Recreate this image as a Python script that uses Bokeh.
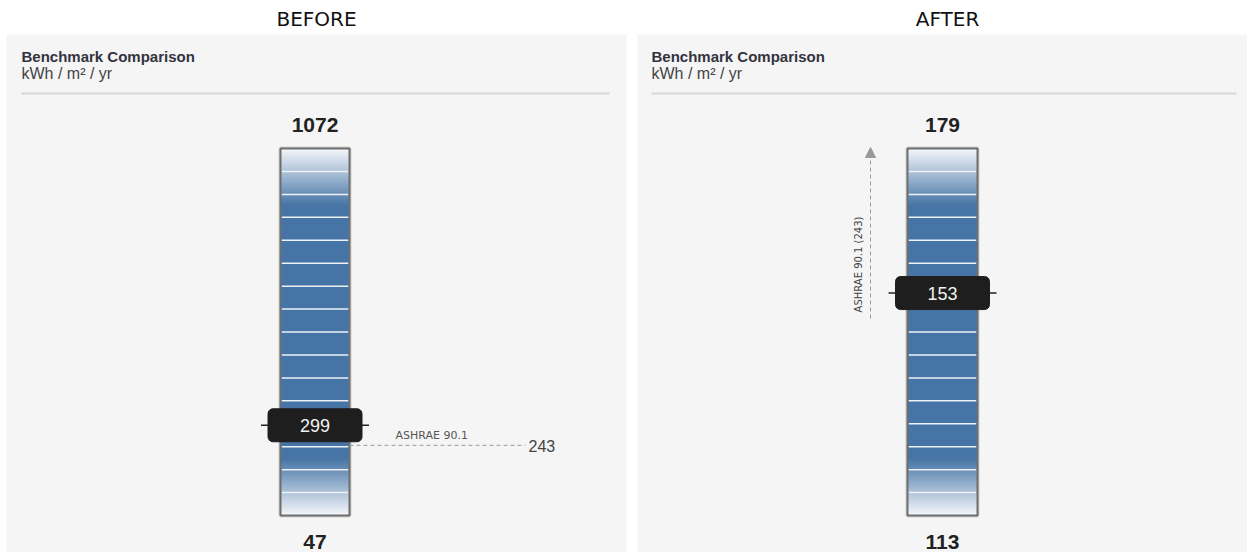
from bokeh.plotting import figure
from bokeh.layouts import row
from bokeh.models import Range1d, Arrow, NormalHead
from bokeh.core.properties import value
from bokeh.embed import file_html
from bokeh.resources import INLINE

# ---- data -------------------------------------------------------------
panel_titles = ["BEFORE", "AFTER"]
scale_min = [47, 113]          # value printed under each gauge
scale_max = [1072, 179]        # value printed above each gauge
current_value = [299, 153]     # building's intensity (marker)
ashrae_name = "ASHRAE 90.1"
ashrae_value = 243             # benchmark intensity
header_title = "Benchmark Comparison"
header_units = "kWh / m² / yr"

# ---- layout (page pixels) ---------------------------------------------
W, H = 1247, 552
fig_x = [(0, 631), (631, 1247)]
panel_x = [(6, 626), (637, 1247)]
bar_x = [(280, 349), (907, 977)]
header_x = [21, 651]
sep_x = [(21, 609), (651, 1236)]
title_cx = [316, 947]
PANEL_TOP = 34
BAR_TOP, BAR_BOT = 148, 515
N_SEGMENTS = 16
N_FADE_STRIPS = 40
FADE = 0.155

BLUE = (70, 116, 166)
LIGHT = (245, 248, 251)
TEXT_FONT = value("Liberation Sans")
SMALL_FONT = value("DejaVu Sans")


def mix(a, b, t):
    return "#%02x%02x%02x" % tuple(int(round(a[i] + (b[i] - a[i]) * t)) for i in range(3))


def make_panel(i):
    vmin, vmax = scale_min[i], scale_max[i]
    span = vmax - vmin

    def px_to_val(py):
        return vmin + (BAR_BOT - py) / (BAR_BOT - BAR_TOP) * span

    x0, x1 = fig_x[i]
    p = figure(width=x1 - x0, height=H, output_backend="svg", toolbar_location=None,
               x_range=Range1d(x0, x1), y_range=Range1d(px_to_val(H), px_to_val(0)),
               min_border=0, x_axis_location=None, y_axis_location=None,
               outline_line_color=None, background_fill_color="white",
               border_fill_color="white")
    p.extra_y_ranges = {"px": Range1d(H, 0)}
    p.xgrid.visible = False
    p.ygrid.visible = False

    # panel card and header
    px0, px1 = panel_x[i]
    p.quad(left=px0, right=px1, top=PANEL_TOP, bottom=H, y_range_name="px",
           fill_color="#f5f5f5", line_color=None)
    p.text(x=[title_cx[i]], y=[18], text=[panel_titles[i]], y_range_name="px",
           text_font=value("DejaVu Sans"), text_font_size="20px", text_color="#111111",
           text_align="center", text_baseline="middle")
    p.text(x=[header_x[i]], y=[56], text=[header_title], y_range_name="px",
           text_font=TEXT_FONT, text_font_style="bold", text_font_size="15px",
           text_color="#333340", text_baseline="middle")
    p.text(x=[header_x[i]], y=[73], text=[header_units], y_range_name="px",
           text_font=TEXT_FONT, text_font_size="16px", text_color="#444444",
           text_baseline="middle")
    p.segment(x0=sep_x[i][0], x1=sep_x[i][1], y0=93, y1=93, y_range_name="px",
              line_color="#d6d6d6", line_width=2)

    # gauge body: solid blue with light fades at both ends
    bl, br = bar_x[i]
    cx = (bl + br) / 2
    p.quad(left=bl, right=br, bottom=vmin, top=vmax, fill_color=None,
           line_color="#cfcfcf", line_width=4)
    p.quad(left=bl, right=br, bottom=vmin, top=vmax, fill_color=mix(BLUE, BLUE, 0),
           line_color=None)
    step = FADE / N_FADE_STRIPS
    bots, tops, cols = [], [], []
    for k in range(N_FADE_STRIPS):
        col = mix(LIGHT, BLUE, (k + 0.5) / N_FADE_STRIPS)
        # strip near the bottom edge (overlaps the next one to hide seams)
        bots.append(vmin + k * step * span)
        tops.append(vmin + (k + 1.6) * step * span)
        cols.append(col)
        # mirrored strip near the top edge
        bots.append(vmax - (k + 1.6) * step * span)
        tops.append(vmax - k * step * span)
        cols.append(col)
    p.quad(left=bl, right=br, bottom=bots, top=tops, fill_color=cols, line_color=None)
    seg_vals = [vmin + k * span / N_SEGMENTS for k in range(1, N_SEGMENTS)]
    p.segment(x0=bl + 1, x1=br - 1, y0=seg_vals, y1=seg_vals,
              line_color="#eef2f7", line_width=1.5)
    p.quad(left=bl, right=br, bottom=vmin, top=vmax, fill_color=None,
           line_color="#6e6e6e", line_width=2)

    # scale end labels
    p.text(x=[cx], y=[vmax], text=[str(vmax)], y_offset=-24, text_font=TEXT_FONT,
           text_font_style="bold", text_font_size="21px", text_color="#222222",
           text_align="center", text_baseline="middle")
    p.text(x=[cx], y=[vmin], text=[str(vmin)], y_offset=26, text_font=TEXT_FONT,
           text_font_style="bold", text_font_size="21px", text_color="#222222",
           text_align="center", text_baseline="middle")

    # benchmark reference: inline line when on the scale, arrow when above it
    if vmin <= ashrae_value <= vmax:
        p.segment(x0=br, x1=525, y0=ashrae_value, y1=ashrae_value,
                  line_color="#9a9a9a", line_width=1, line_dash="4 3")
        p.text(x=[395], y=[ashrae_value], text=[ashrae_name], y_offset=-10,
               text_font=SMALL_FONT, text_font_size="11px", text_color="#555555",
               text_baseline="middle")
        p.text(x=[528], y=[ashrae_value], text=[str(ashrae_value)], y_offset=1,
               text_font=TEXT_FONT, text_font_size="16px", text_color="#444444",
               text_baseline="middle")
    else:
        ax = bl - 37
        p.add_layout(Arrow(x_start=ax, y_start=318, x_end=ax, y_end=BAR_TOP - 1,
                           y_range_name="px", line_color="#9a9a9a", line_width=1,
                           line_dash="4 3",
                           end=NormalHead(size=10, fill_color="#9a9a9a",
                                          line_color="#9a9a9a")))
        p.text(x=[ax - 12], y=[264], text=[f"{ashrae_name} ({ashrae_value})"],
               y_range_name="px", angle=1.5708, text_font=SMALL_FONT,
               text_font_size="10px", text_color="#444444", text_align="center",
               text_baseline="middle")

    # current value marker
    v = current_value[i]
    p.segment(x0=cx - 54, x1=cx + 54, y0=v, y1=v, line_color="#222222", line_width=1.5)
    p.rect(x=cx, y=v, width=94, height=33, height_units="screen",
           fill_color="#1e1e1e", line_color="#1e1e1e", border_radius=5)
    p.text(x=[cx], y=[v], text=[str(v)], text_font=TEXT_FONT, text_font_size="18px",
           text_color="#f2f2f2", text_align="center", text_baseline="middle")
    return p


layout = row(make_panel(0), make_panel(1), spacing=0)
open("out.html", "w").write(file_html(layout, INLINE))
